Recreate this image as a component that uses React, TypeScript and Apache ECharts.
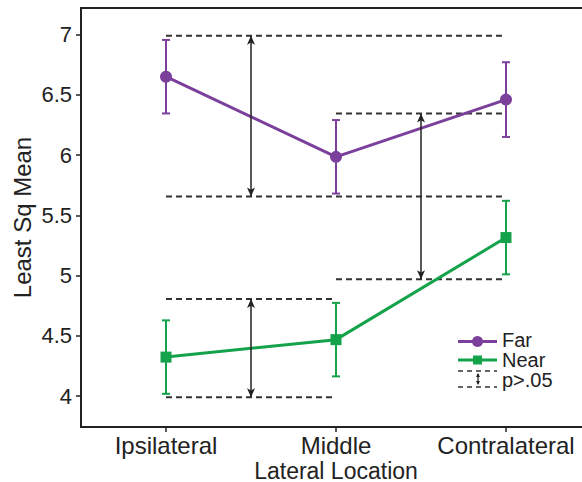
import React, { useEffect, useRef } from "react";
import * as echarts from "echarts";

const categories = ["Ipsilateral", "Middle", "Contralateral"];
const yTicks = [4, 4.5, 5, 5.5, 6, 6.5, 7];
const farMeans = [6.65, 5.985, 6.46];
const farErr = [0.305, 0.305, 0.31];
const nearMeans = [4.323, 4.468, 5.315];
const nearErr = [0.305, 0.305, 0.305];
// comparison bands: [xStart, xEnd, y]
const bandLines = [
  [0, 2, 6.99],
  [0, 2, 5.655],
  [1, 2, 6.345],
  [1, 2, 4.97],
  [0, 1, 4.805],
  [0, 1, 3.99],
];
// arrows: [x, yTop, yBottom]
const arrows = [
  [0.5, 6.99, 5.655],
  [1.5, 6.345, 4.97],
  [0.5, 4.805, 3.99],
];

const PURPLE = "#7B3F9C";
const GREEN = "#14A24A";
const INK = "#222";
const FONT = "Liberation Sans";

function errorBarSeries(means: number[], errs: number[], color: string) {
  return {
    type: "custom",
    silent: true,
    z: 3,
    data: means.map((m, i) => [i, m, errs[i]]),
    renderItem: (params: any, api: any) => {
      const x = api.value(0);
      const y = api.value(1);
      const e = api.value(2);
      const top = api.coord([x, y + e]);
      const bot = api.coord([x, y - e]);
      const hw = 4;
      const st = { stroke: color, lineWidth: 2 };
      return {
        type: "group",
        children: [
          { type: "line", shape: { x1: top[0], y1: top[1], x2: bot[0], y2: bot[1] }, style: st },
          { type: "line", shape: { x1: top[0] - hw, y1: top[1], x2: top[0] + hw, y2: top[1] }, style: st },
          { type: "line", shape: { x1: bot[0] - hw, y1: bot[1], x2: bot[0] + hw, y2: bot[1] }, style: st },
        ],
      };
    },
  };
}

export default function App() {
  const ref = useRef<HTMLDivElement>(null);
  useEffect(() => {
    if (!ref.current) return;
    const chart = echarts.init(ref.current, null, { renderer: "svg" });
    const series: any[] = [];
    bandLines.forEach((b) => {
      series.push({
        type: "line",
        silent: true,
        symbol: "none",
        z: 1,
        data: [
          [b[0], b[2]],
          [b[1], b[2]],
        ],
        lineStyle: { color: "#333", width: 2, type: [6, 4] },
      });
    });
    series.push({
      type: "line",
      data: [],
      silent: true,
      markLine: {
        silent: true,
        symbol: ["arrow", "arrow"],
        symbolSize: [6, 9],
        label: { show: false },
        lineStyle: { color: INK, width: 1.5, type: "solid" },
        data: arrows.map((a) => [{ coord: [a[0], a[1]] }, { coord: [a[0], a[2]] }]),
      },
    });
    series.push(errorBarSeries(farMeans, farErr, PURPLE));
    series.push(errorBarSeries(nearMeans, nearErr, GREEN));
    series.push({
      name: "Far",
      type: "line",
      z: 4,
      data: farMeans.map((m, i) => [i, m]),
      symbol: "circle",
      symbolSize: 12,
      itemStyle: { color: PURPLE },
      lineStyle: { color: PURPLE, width: 3 },
    });
    series.push({
      name: "Near",
      type: "line",
      z: 4,
      data: nearMeans.map((m, i) => [i, m]),
      symbol: "rect",
      symbolSize: 11,
      itemStyle: { color: GREEN },
      lineStyle: { color: GREEN, width: 3 },
    });

    const legendText = (text: string, y: number) => ({
      type: "text",
      x: 502,
      y,
      style: { text, fontFamily: FONT, fontSize: 20, fill: INK, verticalAlign: "middle" },
    });

    chart.setOption({
      animation: false,
      backgroundColor: "#fff",
      grid: {
        left: 81,
        top: 8,
        width: 510,
        bottom: 55,
        show: true,
        borderColor: INK,
        borderWidth: 2,
        containLabel: false,
        outerBoundsMode: "none",
      },
      xAxis: {
        type: "value",
        min: -0.5,
        max: 2.5,
        name: "Lateral Location",
        nameLocation: "middle",
        nameGap: 32,
        nameMoveOverlap: false,
        nameTextStyle: { fontFamily: FONT, fontSize: 23, color: INK },
        axisLine: { show: true, onZero: false, lineStyle: { color: INK, width: 2 } },
        axisTick: { show: true, customValues: [0, 1, 2], length: 5, lineStyle: { color: INK, width: 1.5 } },
        axisLabel: {
          customValues: [0, 1, 2],
          formatter: (v: number) => categories[Math.round(v)] ?? "",
          fontFamily: FONT,
          fontSize: 24,
          color: INK,
          margin: 6,
        },
        splitLine: { show: false },
      },
      yAxis: {
        type: "value",
        min: 3.743,
        max: 7.22,
        name: "Least Sq Mean",
        nameLocation: "middle",
        nameGap: 47,
        nameMoveOverlap: false,
        nameTextStyle: { fontFamily: FONT, fontSize: 24, color: INK },
        axisLine: { show: true, onZero: false, lineStyle: { color: INK, width: 2 } },
        axisTick: { show: true, customValues: yTicks, length: 5, lineStyle: { color: INK, width: 1.5 } },
        axisLabel: {
          customValues: yTicks,
          formatter: (v: number) => String(v),
          fontFamily: FONT,
          fontSize: 22,
          color: INK,
          margin: 9,
        },
        splitLine: { show: false },
      },
      graphic: [
        { type: "line", shape: { x1: 458, y1: 341.5, x2: 497, y2: 341.5 }, style: { stroke: PURPLE, lineWidth: 3 } },
        { type: "circle", shape: { cx: 477.5, cy: 341.5, r: 5.5 }, style: { fill: PURPLE } },
        legendText("Far", 340),
        { type: "line", shape: { x1: 458, y1: 360, x2: 497, y2: 360 }, style: { stroke: GREEN, lineWidth: 3 } },
        { type: "rect", shape: { x: 473, y: 355.5, width: 9, height: 9 }, style: { fill: GREEN } },
        legendText("Near", 360),
        { type: "line", shape: { x1: 458, y1: 371, x2: 497, y2: 371 }, style: { stroke: "#333", lineWidth: 1.5, lineDash: [5, 4] } },
        { type: "line", shape: { x1: 458, y1: 387, x2: 497, y2: 387 }, style: { stroke: "#333", lineWidth: 1.5, lineDash: [5, 4] } },
        { type: "line", shape: { x1: 478, y1: 374, x2: 478, y2: 384 }, style: { stroke: INK, lineWidth: 1.2 } },
        { type: "polygon", shape: { points: [[478, 373], [476, 377], [480, 377]] }, style: { fill: INK } },
        { type: "polygon", shape: { points: [[478, 385], [476, 381], [480, 381]] }, style: { fill: INK } },
        legendText("p>.05", 380),
      ],
      series,
    });
    return () => chart.dispose();
  }, []);
  return <div ref={ref} style={{ position: "absolute", left: 0, top: 0, width: 582, height: 482 }} />;
}
